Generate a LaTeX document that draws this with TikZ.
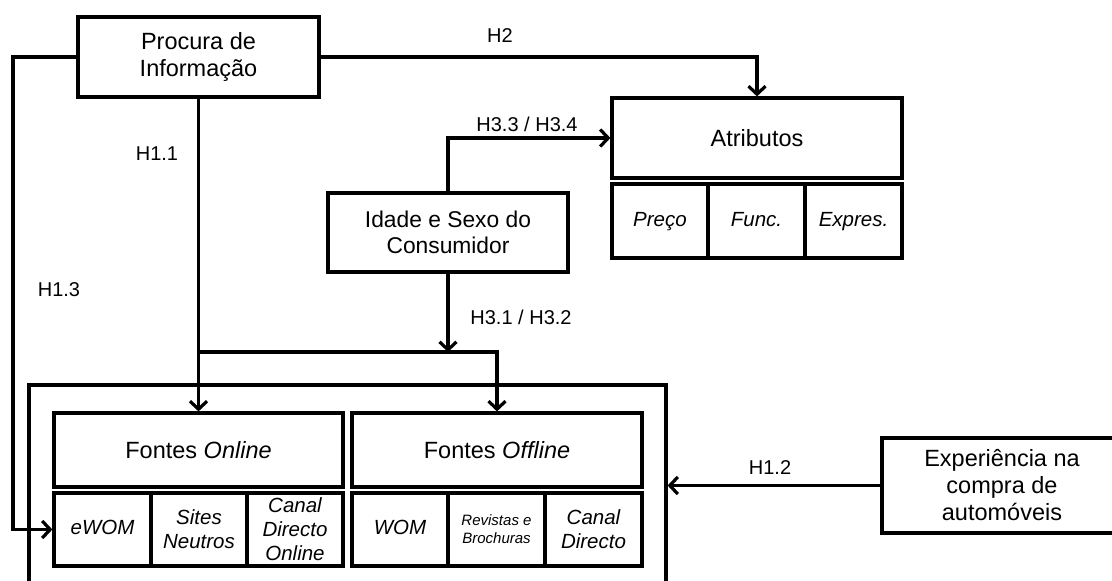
\documentclass[tikz,border=0pt]{standalone}
\usepackage{fontspec}
\setmainfont{Liberation Sans}
\usetikzlibrary{arrows.meta}
\begin{document}
\begin{tikzpicture}[x=1pt,y=-1pt,
box/.style={draw,line width=3.2pt,align=center,inner sep=0pt,font=\fontsize{23.5}{27}\selectfont},
cell/.style={box,minimum height=73pt,font=\fontsize{20.5}{24}\selectfont\itshape},
oneline/.style={text height=15pt,text depth=5pt},
hyp/.style={inner sep=0pt,font=\fontsize{20}{24}\selectfont},
link/.style={line width=3.2pt,-{Straight Barb[length=8pt,width=17pt]}},
]
\useasboundingbox (0,0) rectangle (1112,581);
\node[box,minimum width=637pt,minimum height=220pt] (srcs) at (347.5,495) {};
\node[box,minimum width=241pt,minimum height=80pt] (proc) at (198.5,57) {Procura de\\Informação};
\node[box,minimum width=290pt,minimum height=80pt] (attr) at (757,138) {Atributos};
\node[cell,oneline,minimum width=96pt,minimum height=74pt] (price) at (660,221) {Preço};
\node[cell,oneline,minimum width=97pt,minimum height=74pt] (func) at (756.5,221) {Func.};
\node[cell,oneline,minimum width=97pt,minimum height=74pt] (expr) at (853.5,221) {Expres.};
\node[box,minimum width=240pt,minimum height=79pt,font=\fontsize{22.8}{26.5}\selectfont] (cons) at (448,232.5) {Idade e Sexo do\\Consumidor};
\node[box,minimum width=289pt,minimum height=74pt] (online) at (198.5,450) {Fontes \textit{Online}};
\node[box,minimum width=290pt,minimum height=74pt] (offline) at (497,450) {Fontes \textit{Offline}};
\node[cell,oneline,minimum width=97pt] (ewom) at (102.5,529.5) {eWOM};
\node[cell,minimum width=96pt] (sites) at (199,529.5) {Sites\\Neutros};
\node[cell,minimum width=96pt] (direct) at (295,529.5) {Canal\\Directo\\Online};
\node[cell,oneline,minimum width=96pt] (wom) at (400,529.5) {WOM};
\node[cell,minimum width=97pt,font=\fontsize{15}{18}\selectfont\itshape] (mags) at (496.5,529.5) {Revistas e\\Brochuras};
\node[cell,minimum width=97pt] (chan) at (593.5,529.5) {Canal\\Directo};
\node[box,minimum width=240pt,minimum height=95pt] (exp) at (1002,485.5) {Experiência na\\compra de\\automóveis};
\coordinate (bend) at (13,57);
\coordinate (split) at (198.5,352);
\draw[link] (proc.west) -- (bend) |- (ewom.west);
\draw[link] (proc.east) -| (attr.north);
\draw[link] (proc.south) -- (online.north);
\draw[link] (split) -| (offline.north);
\draw[link] (cons.south) -- (cons.south |- split);
\draw[link] (cons.north) |- (attr.west);
\draw[link] (exp.west) -- (exp.west -| srcs.east);
\node[hyp] (h2) at (500,36) {H2};
\node[hyp] (h11) at (157,154) {H1.1};
\node[hyp] (h13) at (59,290) {H1.3};
\node[hyp] (h34) at (527,124) {H3.3 / H3.4};
\node[hyp] (h32) at (521,317) {H3.1 / H3.2};
\node[hyp] (h12) at (770,468) {H1.2};
\end{tikzpicture}
\end{document}
